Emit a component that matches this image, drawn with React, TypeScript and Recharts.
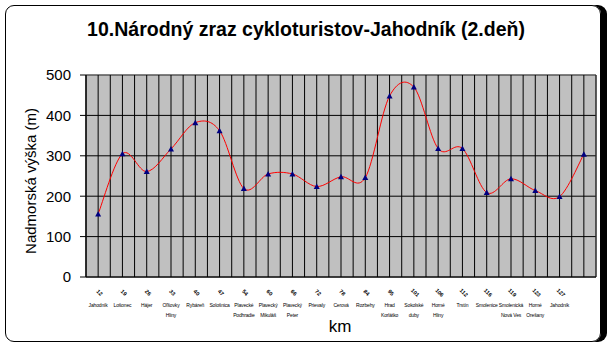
import { CartesianGrid, Line, LineChart, ReferenceArea, ReferenceLine, XAxis, YAxis } from "recharts";

const places = [
	"Jahodník",
	"Lošonec",
	"Hájer",
	"Oľšovky Hliny",
	"Rybáreň",
	"Sološnica",
	"Plavecké Podhradie",
	"Plavecký Mikuláš",
	"Plavecký Peter",
	"Prievaly",
	"Cerová",
	"Rozbehy",
	"Hrad Korlátko",
	"Sokolské duby",
	"Horné Hliny",
	"Trstín",
	"Smolenice",
	"Smolenická Nová Ves",
	"Horné Orešany",
	"Jahodník",
	"",
];
const kmMarks = ["12", "19", "26", "33", "40", "47", "54", "60", "66", "72", "78", "84", "95", "101", "106", "112", "116", "119", "123", "127", ""];
const elevation = [156, 305, 261, 317, 382, 362, 219, 255, 255, 224, 248, 246, 448, 470, 318, 318, 209, 243, 214, 199, 304];
const yTicks = [0, 100, 200, 300, 400, 500];

const data = elevation.map((v, i) => ({ i, v, km: kmMarks[i], name: places[i] }));
// vertical grid: a line at every category and halfway between them
const gridX = Array.from({ length: places.length * 2 + 1 }, (_, k) => k / 2 - 0.5);

const FONT = '"Liberation Sans", Arial, sans-serif';

// Excel-style smoothed line (Catmull-Rom through the points)
function excelCurve(context: any) {
	let pts: number[][] = [];
	return {
		areaStart() {},
		areaEnd() {},
		lineStart() {
			pts = [];
		},
		point(x: number, y: number) {
			pts.push([+x, +y]);
		},
		lineEnd() {
			const n = pts.length;
			if (!n) return;
			context.moveTo(pts[0][0], pts[0][1]);
			for (let i = 0; i < n - 1; i++) {
				const p0 = pts[Math.max(i - 1, 0)];
				const p1 = pts[i];
				const p2 = pts[i + 1];
				const p3 = pts[Math.min(i + 2, n - 1)];
				context.bezierCurveTo(
					p1[0] + (p2[0] - p0[0]) / 6,
					p1[1] + (p2[1] - p0[1]) / 6,
					p2[0] - (p3[0] - p1[0]) / 6,
					p2[1] - (p3[1] - p1[1]) / 6,
					p2[0],
					p2[1],
				);
			}
		},
	};
}

function TriangleDot(props: any) {
	const { cx, cy, index } = props;
	if (cx == null || cy == null) return null;
	return <path key={index} d={`M${cx - 3},${cy + 2.5}L${cx + 3},${cy + 2.5}L${cx},${cy - 3}Z`} fill="#000080" />;
}

function PlaceTick(props: any) {
	const { x, y, payload } = props;
	const d = data[payload.value];
	if (!d) return null;
	const sp = d.name.indexOf(" ");
	const lines = sp > 0 ? [d.name.slice(0, sp), d.name.slice(sp + 1)] : [d.name];
	return (
		<g transform={`translate(${x},${y})`} fontFamily={FONT} fill="#000">
			<text x={0} y={0} fontSize={5.5} fontWeight="bold" textAnchor="middle" transform="translate(0,9) rotate(45)">
				{d.km}
			</text>
			{lines.map((l, k) => (
				<text key={k} x={0} y={22 + k * 10} fontSize={5} textAnchor="middle" letterSpacing={-0.15}>
					{l}
				</text>
			))}
		</g>
	);
}

export default function App() {
	return (
		<div style={{ position: "absolute", left: 0, top: 0, width: 615, height: 356, background: "#fff", fontFamily: FONT }}>
			<div
				style={{
					position: "absolute",
					left: 5,
					top: 5,
					width: 594,
					height: 335,
					border: "1px solid #000",
					borderRadius: 9,
					boxShadow: "6px 0 0 #000",
				}}
			/>
			<div style={{ position: "absolute", left: 0, width: 612, top: 18, textAlign: "center", fontSize: 19.5, fontWeight: "bold" }}>
				10.Národný zraz cykloturistov-Jahodník (2.deň)
			</div>
			<div
				style={{
					position: "absolute",
					left: 30,
					top: 181,
					transform: "translate(-50%,-50%) rotate(-90deg)",
					whiteSpace: "nowrap",
					fontSize: 15,
				}}
			>
				Nadmorská výška (m)
			</div>
			<div style={{ position: "absolute", left: 340, top: 317, transform: "translateX(-50%)", fontSize: 17 }}>km</div>
			<div style={{ position: "absolute", left: 0, top: 0 }}>
				<LineChart width={615} height={356} data={data} margin={{ top: 75, right: 19, bottom: 19, left: 0 }}>
					<CartesianGrid vertical={false} stroke="#000" fill="#c0c0c0" fillOpacity={1} />
					{gridX.map((g) => (
						<ReferenceLine key={g} x={g} stroke="#000" strokeWidth={1} />
					))}
					<ReferenceArea x1={-0.5} x2={20.5} y1={0} y2={500} fill="none" stroke="#808080" />
					<XAxis
						dataKey="i"
						type="number"
						domain={[-0.5, 20.5]}
						ticks={data.map((d) => d.i)}
						interval={0}
						tick={<PlaceTick />}
						tickLine={false}
						axisLine={{ stroke: "#000" }}
						height={60}
					/>
					<YAxis
						domain={[0, 500]}
						ticks={yTicks}
						width={86}
						tickSize={6}
						tickMargin={9}
						tickLine={{ stroke: "#000" }}
						axisLine={{ stroke: "#000" }}
						tick={{ fontSize: 15, fill: "#000", fontFamily: FONT }}
					/>
					<Line
						dataKey="v"
						type={excelCurve as any}
						stroke="#ff0000"
						strokeWidth={1}
						dot={<TriangleDot />}
						activeDot={false}
						isAnimationActive={false}
					/>
				</LineChart>
			</div>
		</div>
	);
}
